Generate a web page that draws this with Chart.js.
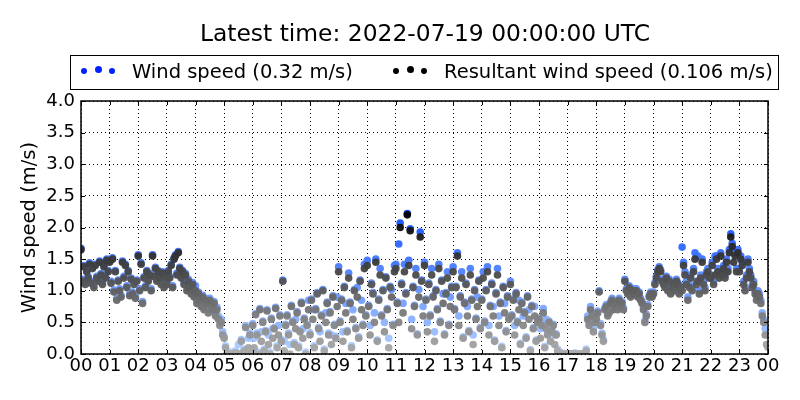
<!DOCTYPE html>
<html>
<head>
<meta charset="utf-8">
<script src="https://cdn.jsdelivr.net/npm/chart.js@4"></script>
<style>
  body { margin: 0; background: #fff; font-family: "DejaVu Sans", sans-serif; }
  #wrap { position: relative; width: 800px; height: 400px; }
  #title { position: absolute; left: 25px; top: 19px; width: 800px; text-align: center; font-size: 23.4px; }
  #legend { position: absolute; left: 70px; top: 55px; width: 709px; height: 35px; border: 1px solid #000; box-sizing: border-box; font-size: 19.5px; background: #fff; }
  .item { position: absolute; top: 4px; white-space: nowrap; }
  .dots { position: absolute; top: 11px; }
  .dots i { position: absolute; border-radius: 50%; }
</style>
</head>
<body>
<div id="wrap">
  <canvas id="windChart" width="800" height="400"></canvas>
  <div id="title">Latest time: 2022-07-19 00:00:00 UTC</div>
  <div id="legend">
    <div class="dots" id="dotsWind" style="left:10px"></div>
    <div class="item" style="left:61px">Wind speed (0.32 m/s)</div>
    <div class="dots" id="dotsRes" style="left:322px"></div>
    <div class="item" style="left:373px">Resultant wind speed (0.106 m/s)</div>
  </div>
</div>
<script>
// sample spacing: 3 minutes, 00:00 .. 24:00 (20 samples per hour row)
const stepHours = 3 / 60;
const hourLabels = ["00","01","02","03","04","05","06","07","08","09","10","11",
                    "12","13","14","15","16","17","18","19","20","21","22","23","00"];

const resultantSpeed = [
  1.65,1.15,1.38,1.1,1.3,1.2,1.42,1.12,1.35,1.05,1.4,1.2,1.15,1.45,1.25,1.1,1.38,1.2,1.48,1.3,
  1.45,1.12,1.5,0.98,1.3,0.85,1.15,1.0,0.9,1.45,1.2,1.4,1.05,1.3,0.92,1.18,0.95,1.1,0.88,1.15,
  1.55,1.0,1.42,0.8,1.2,1.05,1.3,1.15,1.25,1.0,1.55,1.22,1.35,1.15,1.3,1.2,1.1,1.28,1.05,1.2,
  1.1,1.3,1.2,1.4,1.05,1.5,1.55,1.25,1.6,1.35,1.2,1.3,1.1,1.25,1.0,1.15,1.05,0.95,1.1,0.9,
  1.0,0.8,0.95,0.85,0.75,0.9,0.7,0.85,0.8,0.65,0.85,0.75,0.7,0.8,0.6,0.7,0.55,0.45,0.5,0.3,
  0.25,0.1,0.0,0.0,0.0,0.0,0.0,0.0,0.02,0.0,0.0,0.0,0.2,0.0,0.05,0.42,0.0,0.1,0.3,0.05,
  0.45,0.1,0.62,0.3,0.0,0.7,0.2,0.5,0.05,0.35,0.68,0.15,0.0,0.55,0.25,0.4,0.72,0.1,0.3,0.6,
  0.2,1.15,0.05,0.45,0.6,0.3,0.0,0.75,0.5,0.15,0.4,0.65,0.1,0.35,0.8,0.25,0.55,0.0,0.45,0.7,
  0.3,0.85,0.55,0.1,0.7,0.95,0.4,0.2,0.6,1.0,0.05,0.5,0.8,0.3,0.65,0.15,0.9,0.45,0.25,0.75,
  1.3,0.5,0.85,0.2,1.05,0.65,0.35,1.2,0.8,0.1,0.55,1.0,0.4,0.9,0.25,1.15,0.7,0.45,1.35,0.6,
  1.4,0.75,0.3,1.1,0.95,0.5,1.45,0.2,0.85,1.25,0.6,1.0,0.35,1.2,0.7,0.1,1.05,0.9,0.45,1.3,
  1.35,0.8,0.5,2.0,1.1,0.65,1.3,0.95,2.2,1.4,1.95,0.4,1.05,0.75,1.25,0.3,0.9,1.85,1.15,0.6,
  1.4,0.85,0.35,1.1,0.6,1.25,0.9,0.2,1.0,0.7,1.35,0.5,1.15,0.8,0.3,0.95,1.2,0.45,0.75,1.05,
  1.3,0.7,1.05,1.55,0.45,0.9,1.2,0.25,0.8,1.1,0.6,0.35,1.25,0.85,0.15,1.0,0.55,0.75,1.15,0.4,
  0.85,1.2,0.5,1.0,1.3,0.3,0.75,1.1,0.6,0.2,0.95,1.25,0.45,0.8,0.1,1.05,0.65,0.35,0.9,0.55,
  1.1,0.6,0.85,0.3,0.95,0.5,0.7,0.15,0.8,0.45,0.65,0.25,0.9,0.55,0.05,0.75,0.4,0.6,0.2,0.5,
  0.55,0.25,0.45,0.65,0.1,0.4,0.3,0.5,0.2,0.35,0.45,0.15,0.3,0.05,0.0,0.0,0.0,0.0,0.0,0.0,
  0.0,0.0,0.0,0.0,0.0,0.0,0.0,0.0,0.0,0.0,0.0,0.0,0.0,0.05,0.55,0.45,0.7,0.6,0.35,0.5,
  0.55,0.65,0.98,0.45,0.3,0.2,0.7,0.75,0.6,0.65,0.8,0.85,0.7,0.75,0.8,0.7,0.85,0.75,0.8,0.7,
  1.15,1.0,0.95,1.05,0.9,1.0,1.0,0.95,1.0,0.9,0.95,0.85,0.8,0.7,0.5,0.6,0.75,0.9,0.95,0.9,
  0.95,1.1,1.2,1.3,1.35,1.3,1.15,1.1,1.05,1.2,1.0,1.15,0.95,1.1,1.05,1.0,1.15,1.1,0.95,1.05,
  1.0,1.4,1.25,1.1,0.85,1.05,1.2,1.0,1.3,1.5,1.1,1.15,0.95,1.2,1.45,1.1,1.0,1.25,1.3,1.2,
  1.2,1.4,1.1,1.25,1.5,1.3,1.2,1.55,1.25,1.35,1.2,1.45,1.3,1.6,1.85,1.7,1.45,1.55,1.3,1.6,
  1.3,1.5,1.4,1.1,1.0,1.2,1.45,1.3,1.2,1.05,1.1,0.95,0.85,0.95,0.9,0.8,0.6,0.5,0.3,0.15,
  0.106
];

const windSpeed = [
  1.67,1.18,1.4,1.13,1.32,1.23,1.44,1.15,1.37,1.08,1.42,1.23,1.18,1.47,1.27,1.13,1.4,1.23,1.5,1.32,
  1.47,1.15,1.52,1.01,1.32,0.88,1.17,1.03,0.93,1.47,1.23,1.42,1.08,1.32,0.95,1.2,0.98,1.13,0.91,1.17,
  1.57,1.03,1.44,0.83,1.22,1.08,1.32,1.18,1.27,1.03,1.57,1.24,1.37,1.18,1.32,1.23,1.13,1.3,1.08,1.22,
  1.13,1.32,1.23,1.42,1.08,1.52,1.57,1.28,1.62,1.37,1.23,1.32,1.13,1.27,1.03,1.18,1.08,0.98,1.13,0.93,
  1.08,0.84,0.98,0.88,0.78,0.93,0.74,0.88,0.83,0.7,0.88,0.78,0.74,0.83,0.64,0.74,0.6,0.5,0.55,0.35,
  0.28,0.13,0.0,0.03,0.0,0.0,0.03,0.0,0.05,0.0,0.15,0.0,0.23,0.03,0.08,0.45,0.0,0.25,0.33,0.08,
  0.48,0.25,0.64,0.33,0.03,0.72,0.35,0.52,0.08,0.37,0.7,0.3,0.03,0.57,0.4,0.42,0.74,0.13,0.45,0.62,
  0.23,1.17,0.2,0.47,0.62,0.33,0.15,0.77,0.52,0.18,0.55,0.67,0.13,0.37,0.82,0.4,0.57,0.03,0.47,0.85,
  0.33,0.87,0.7,0.13,0.72,0.97,0.42,0.35,0.62,1.02,0.08,0.65,0.82,0.33,0.67,0.3,0.92,0.47,0.28,0.9,
  1.38,0.52,0.87,0.35,1.07,0.8,0.37,1.28,0.82,0.13,0.7,1.02,0.42,1.05,0.27,1.17,0.85,0.47,1.42,0.62,
  1.48,0.77,0.45,1.12,0.97,0.65,1.5,0.22,0.87,1.35,0.62,1.02,0.5,1.22,0.72,0.25,1.07,1.02,0.47,1.4,
  1.42,0.82,1.74,2.07,1.12,0.8,1.42,0.97,2.22,1.48,1.98,0.55,1.07,0.77,1.35,0.32,1.02,1.93,1.17,0.75,
  1.45,0.87,0.5,1.12,0.62,1.35,0.92,0.35,1.02,0.72,1.42,0.52,1.17,0.95,0.32,0.97,1.3,0.47,0.9,1.07,
  1.38,0.72,1.07,1.6,0.6,0.92,1.3,0.27,0.82,1.12,0.75,0.37,1.35,0.87,0.3,1.02,0.57,0.9,1.17,0.42,
  0.87,1.3,0.52,1.02,1.38,0.45,0.77,1.12,0.75,0.22,0.97,1.35,0.6,0.82,0.12,1.07,0.8,0.37,0.92,0.57,
  1.15,0.62,0.87,0.45,0.97,0.52,0.85,0.17,0.82,0.6,0.67,0.27,0.92,0.7,0.07,0.77,0.42,0.75,0.22,0.52,
  0.57,0.4,0.47,0.72,0.12,0.55,0.32,0.52,0.35,0.37,0.47,0.3,0.32,0.08,0.0,0.0,0.02,0.0,0.0,0.0,
  0.0,0.0,0.0,0.0,0.0,0.02,0.0,0.0,0.0,0.0,0.0,0.0,0.0,0.08,0.6,0.5,0.75,0.65,0.4,0.55,
  0.58,0.68,1.0,0.48,0.33,0.23,0.73,0.78,0.63,0.68,0.83,0.88,0.73,0.78,0.83,0.73,0.88,0.78,0.83,0.73,
  1.18,1.03,0.98,1.08,0.93,1.03,1.03,0.98,1.03,0.93,0.98,0.88,0.83,0.73,0.53,0.63,0.78,0.93,0.98,0.93,
  0.98,1.13,1.23,1.33,1.38,1.33,1.18,1.13,1.08,1.23,1.03,1.18,0.98,1.13,1.08,1.03,1.18,1.13,0.98,1.08,
  1.69,1.45,1.3,1.15,0.9,1.1,1.25,1.05,1.35,1.6,1.15,1.55,1.0,1.25,1.5,1.15,1.05,1.3,1.35,1.25,
  1.25,1.45,1.15,1.55,1.55,1.35,1.25,1.6,1.3,1.4,1.25,1.5,1.35,1.65,1.9,1.75,1.6,1.6,1.35,1.65,
  1.35,1.55,1.45,1.15,1.05,1.25,1.5,1.35,1.25,1.1,1.15,1.0,0.9,1.0,0.95,0.85,0.65,0.55,0.4,0.3,
  0.32
];

function toPoints(values) {
  return values.map((v, i) => ({ x: i * stepHours, y: v }));
}

// value-based shading, like the colour map of the original
function greyFor(v) {
  const g = Math.max(0, Math.round(172 - 78 * v));
  return `rgba(${g},${g},${g},0.95)`;
}
function blueFor(v) {
  const r = Math.max(0, Math.round(180 - 78 * v));
  const g = Math.max(50, Math.round(210 - 62 * v));
  return `rgba(${r},${g},255,0.95)`;
}

// legend markers: three dots, like the matplotlib scatter legend
function legendDots(id, color) {
  const el = document.getElementById(id);
  const sizes = [[0, 6], [14, 7], [28, 6]];
  el.innerHTML = sizes.map(([x, s], k) =>
    `<i style="left:${x}px;top:${k === 1 ? -1 : 1}px;width:${s}px;height:${s}px;background:${color}"></i>`
  ).join("");
}
legendDots("dotsWind", "#0022ff");
legendDots("dotsRes", "#000");

const framePlugin = {
  id: "frame",
  afterDraw(chart) {
    const { ctx, chartArea: a } = chart;
    ctx.save();
    ctx.strokeStyle = "#000";
    ctx.lineWidth = 1;
    // inward tick marks
    ctx.beginPath();
    chart.scales.x.ticks.forEach(t => {
      const px = Math.round(chart.scales.x.getPixelForValue(t.value)) + 0.5;
      ctx.moveTo(px, a.bottom); ctx.lineTo(px, a.bottom - 4);
      ctx.moveTo(px, a.top); ctx.lineTo(px, a.top + 4);
    });
    chart.scales.y.ticks.forEach(t => {
      const py = Math.round(chart.scales.y.getPixelForValue(t.value)) + 0.5;
      ctx.moveTo(a.left, py); ctx.lineTo(a.left + 4, py);
      ctx.moveTo(a.right, py); ctx.lineTo(a.right - 4, py);
    });
    ctx.stroke();
    ctx.lineWidth = 1.5;
    ctx.strokeRect(a.left, a.top, a.right - a.left, a.bottom - a.top);
    ctx.restore();
  }
};

new Chart(document.getElementById("windChart").getContext("2d"), {
  type: "scatter",
  data: {
    datasets: [
      {
        label: "Wind speed (0.32 m/s)",
        data: toPoints(windSpeed),
        order: 2,
        pointRadius: 3.8,
        pointBorderWidth: 0,
        pointBackgroundColor: c => blueFor(c.raw ? c.raw.y : 0)
      },
      {
        label: "Resultant wind speed (0.106 m/s)",
        data: toPoints(resultantSpeed),
        order: 1,
        pointRadius: 3.8,
        pointBorderWidth: 0,
        pointBackgroundColor: c => greyFor(c.raw ? c.raw.y : 0)
      }
    ]
  },
  options: {
    responsive: false,
    animation: false,
    layout: { padding: { top: 101, right: 32, left: 0, bottom: 0 } },
    plugins: { legend: { display: false }, tooltip: { enabled: false } },
    scales: {
      x: {
        type: "linear",
        min: 0, max: 24,
        afterFit: s => { s.height = 46; },
        afterBuildTicks: s => { s.ticks = hourLabels.map((_, i) => ({ value: i })); },
        ticks: {
          autoSkip: false,
          maxRotation: 0,
          padding: 2,
          color: "#000",
          font: { family: "DejaVu Sans", size: 18 },
          callback: v => hourLabels[v]
        },
        grid: { color: "#000", lineWidth: 1, drawTicks: false },
        border: { display: false, dash: [1, 3] }
      },
      y: {
        min: 0, max: 4,
        afterFit: s => { s.width = 81; },
        ticks: {
          stepSize: 0.5,
          padding: 6,
          color: "#000",
          font: { family: "DejaVu Sans", size: 18 },
          callback: v => v.toFixed(1)
        },
        title: {
          display: true,
          text: "Wind speed (m/s)",
          color: "#000",
          font: { family: "DejaVu Sans", size: 19.5 },
          padding: { top: 18, bottom: 0 }
        },
        grid: { color: "#000", lineWidth: 1, drawTicks: false },
        border: { display: false, dash: [1, 3] }
      }
    }
  },
  plugins: [framePlugin]
});
</script>
</body>
</html>
